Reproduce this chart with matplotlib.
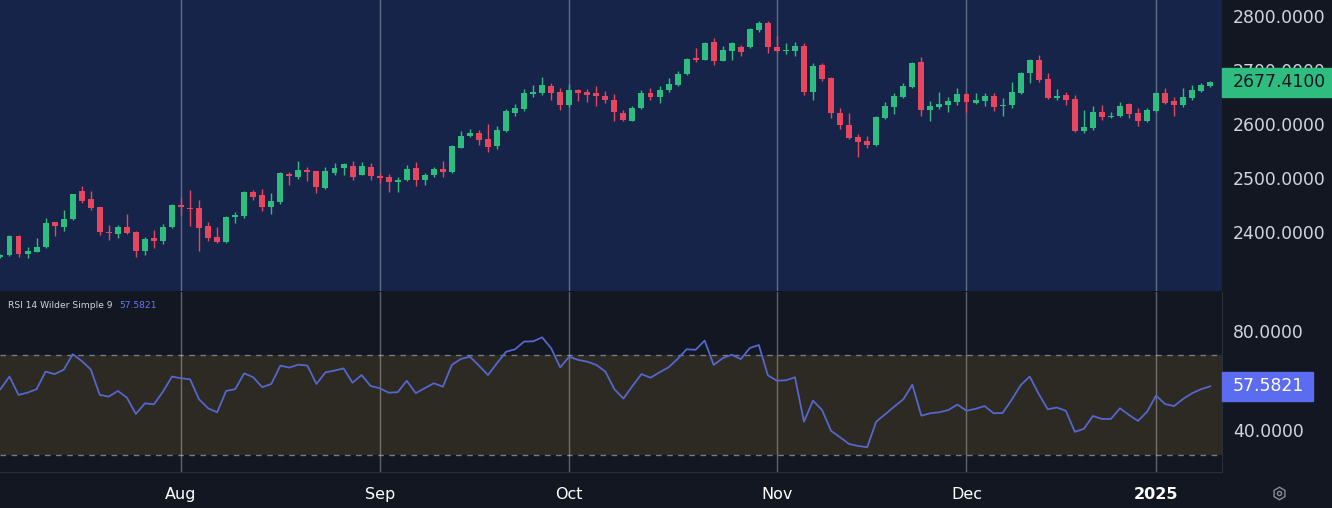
import numpy as np
import matplotlib.pyplot as plt
from matplotlib.patches import Rectangle
from matplotlib.lines import Line2D
from matplotlib.transforms import blended_transform_factory

# daily candles, early Jul 2024 -> early Jan 2025
opens = [2353, 2357, 2393, 2359, 2363, 2372, 2418, 2409, 2424, 2476,
         2461, 2446, 2400, 2396, 2409, 2400, 2365, 2389, 2383, 2409,
         2450, 2444, 2444, 2411, 2391, 2381, 2428, 2430, 2474, 2469,
         2446, 2456, 2507, 2502, 2515, 2513, 2481, 2509, 2519, 2522,
         2506, 2520, 2504, 2502, 2493, 2496, 2519, 2496, 2506, 2517,
         2511, 2556, 2578, 2583, 2572, 2559, 2587, 2620, 2628, 2656,
         2657, 2670, 2659, 2635, 2663, 2659, 2657, 2652, 2644, 2620,
         2606, 2630, 2657, 2650, 2663, 2672, 2693, 2722, 2719, 2752,
         2717, 2735, 2743, 2743, 2774, 2787, 2743, 2735, 2735, 2744,
         2659, 2709, 2685, 2620, 2598, 2576, 2569, 2561, 2611, 2631,
         2650, 2669, 2715, 2626, 2631, 2635, 2641, 2656, 2639, 2643,
         2652, 2633, 2635, 2657, 2694, 2719, 2683, 2648, 2654, 2646,
         2587, 2593, 2622, 2613, 2615, 2637, 2620, 2606, 2624, 2657,
         2643, 2635, 2648, 2661, 2670]
highs = [2359, 2394, 2394, 2372, 2389, 2426, 2419, 2441, 2471, 2485,
         2476, 2447, 2413, 2413, 2433, 2402, 2391, 2404, 2415, 2452,
         2465, 2478, 2459, 2418, 2409, 2429, 2437, 2476, 2478, 2480,
         2472, 2511, 2511, 2531, 2520, 2513, 2520, 2528, 2527, 2531,
         2530, 2528, 2509, 2507, 2502, 2524, 2530, 2509, 2520, 2531,
         2561, 2587, 2591, 2589, 2600, 2596, 2628, 2637, 2665, 2672,
         2687, 2676, 2667, 2674, 2665, 2665, 2670, 2661, 2656, 2626,
         2633, 2663, 2667, 2670, 2685, 2698, 2722, 2741, 2752, 2759,
         2744, 2751, 2746, 2777, 2791, 2791, 2763, 2750, 2752, 2750,
         2713, 2713, 2687, 2630, 2620, 2581, 2578, 2614, 2641, 2657,
         2676, 2715, 2724, 2643, 2659, 2650, 2667, 2657, 2657, 2657,
         2657, 2648, 2678, 2696, 2720, 2728, 2694, 2665, 2659, 2654,
         2626, 2633, 2635, 2622, 2641, 2639, 2630, 2630, 2658, 2667,
         2650, 2667, 2672, 2676, 2680]
lows = [2351, 2355, 2354, 2352, 2362, 2370, 2393, 2402, 2423, 2454,
        2441, 2394, 2385, 2389, 2397, 2354, 2357, 2370, 2378, 2408,
        2432, 2411, 2365, 2383, 2380, 2380, 2417, 2426, 2459, 2439,
        2433, 2452, 2487, 2498, 2494, 2472, 2480, 2505, 2505, 2496,
        2505, 2496, 2491, 2474, 2474, 2495, 2485, 2487, 2502, 2502,
        2510, 2555, 2576, 2561, 2548, 2554, 2586, 2615, 2624, 2650,
        2654, 2644, 2626, 2631, 2643, 2641, 2633, 2639, 2606, 2605,
        2605, 2628, 2644, 2639, 2659, 2670, 2691, 2715, 2718, 2709,
        2716, 2719, 2726, 2741, 2770, 2731, 2733, 2730, 2726, 2654,
        2644, 2680, 2611, 2591, 2572, 2539, 2556, 2560, 2610, 2619,
        2648, 2667, 2615, 2606, 2628, 2622, 2635, 2622, 2637, 2633,
        2624, 2615, 2630, 2655, 2676, 2678, 2646, 2644, 2635, 2585,
        2583, 2589, 2607, 2611, 2613, 2611, 2596, 2604, 2622, 2637,
        2615, 2631, 2644, 2659, 2668]
closes = [2357, 2393, 2359, 2365, 2372, 2417, 2411, 2424, 2470, 2457,
          2444, 2400, 2398, 2409, 2398, 2365, 2387, 2383, 2409, 2450,
          2447, 2442, 2407, 2389, 2381, 2428, 2431, 2474, 2465, 2446,
          2457, 2509, 2504, 2515, 2511, 2483, 2513, 2519, 2526, 2502,
          2522, 2504, 2500, 2493, 2496, 2517, 2496, 2506, 2517, 2511,
          2559, 2578, 2583, 2570, 2557, 2589, 2624, 2630, 2657, 2659,
          2672, 2657, 2635, 2663, 2657, 2654, 2652, 2644, 2622, 2607,
          2630, 2657, 2650, 2663, 2674, 2693, 2720, 2719, 2750, 2717,
          2737, 2750, 2733, 2776, 2787, 2743, 2735, 2737, 2744, 2659,
          2707, 2683, 2620, 2598, 2574, 2567, 2561, 2613, 2633, 2652,
          2670, 2713, 2626, 2633, 2637, 2643, 2656, 2641, 2644, 2652,
          2631, 2635, 2659, 2694, 2719, 2681, 2648, 2652, 2644, 2587,
          2594, 2622, 2613, 2615, 2633, 2619, 2606, 2626, 2657, 2639,
          2635, 2650, 2663, 2672, 2677.41]
rsi = [56.4, 61.5, 54.1, 55.0, 56.4, 63.5, 62.5, 64.2, 70.5, 67.8,
       64.4, 54.1, 53.4, 55.7, 53.0, 46.4, 50.7, 50.3, 55.4, 61.5,
       60.8, 60.4, 52.3, 48.7, 47.1, 55.7, 56.4, 62.8, 61.2, 57.2,
       58.5, 65.9, 65.1, 66.3, 65.9, 58.5, 63.2, 63.9, 64.8, 59.0,
       62.1, 57.7, 56.8, 55.0, 55.2, 59.8, 54.8, 56.8, 58.8, 57.4,
       66.2, 68.6, 69.5, 65.9, 62.1, 66.9, 71.5, 72.5, 75.6, 75.7,
       77.3, 72.9, 65.2, 69.5, 68.2, 67.5, 66.2, 63.5, 56.4, 52.6,
       57.7, 62.5, 61.0, 63.2, 65.2, 68.6, 72.5, 72.3, 76.0, 66.2,
       68.9, 70.3, 68.5, 73.0, 74.2, 62.0, 59.8, 60.0, 61.2, 43.3,
       51.8, 48.0, 39.6, 37.0, 34.3, 33.5, 33.0, 43.3, 46.3, 49.4,
       52.3, 58.2, 45.7, 46.7, 47.1, 48.0, 50.2, 47.7, 48.5, 49.6,
       46.7, 46.8, 52.1, 58.0, 61.5, 54.5, 48.3, 49.0, 47.7, 39.2,
       40.4, 45.6, 44.4, 44.4, 48.7, 46.0, 43.6, 47.3, 53.8, 50.4,
       49.6, 52.5, 54.8, 56.4, 57.5821]

month_idx = [20, 42, 63, 86, 107, 128]
month_labels = ['Aug', 'Sep', 'Oct', 'Nov', 'Dec', '2025']
price_ticks = [2400, 2500, 2600, 2700, 2800]
rsi_ticks = [40, 80]
rsi_band = [30, 70]

up_col = '#2ebd7f'
down_col = '#e8465f'
txt_col = '#d1d4dc'

W, H = 1332, 508
fig = plt.figure(figsize=(W / 100, H / 100), dpi=100, facecolor='#131722')
ax = fig.add_axes([0, (H - 291) / H, 1222 / W, 291 / H])
ax2 = fig.add_axes([0, (H - 472) / H, 1222 / W, 180 / H])

o = np.array(opens, float)
c = np.array(closes, float)
x = np.arange(len(o))
cols = np.where(c >= o, up_col, down_col)

# candles
ax.set_facecolor('#17244a')
ax.vlines(x, lows, highs, colors=cols, lw=1, zorder=2)
body = np.maximum(np.abs(c - o), 1.6)
ax.bar(x, body, bottom=np.minimum(o, c), width=0.66, color=cols, lw=0, zorder=3)
ax.set_xlim(-0.05, 135.3)
ax.set_ylim(2290.7, 2829.6)

# rsi pane
ax2.set_facecolor('#131722')
ax2.axhspan(rsi_band[0], rsi_band[1], color='#2c2a23', lw=0, zorder=0)
for v in rsi_band:
    ax2.axhline(v, color='#787b86', lw=1, ls=(0, (4, 4)), zorder=1)
ax2.plot(x, rsi, color='#5566cc', lw=1.3, zorder=3)
ax2.set_xlim(-0.05, 135.3)
ax2.set_ylim(23.0, 95.6)

for a in (ax, ax2):
    for m in month_idx:
        a.axvline(m, color='white', alpha=0.33, lw=1, zorder=1)
    for s in a.spines.values():
        s.set_visible(False)
    a.yaxis.tick_right()
    a.tick_params(axis='y', length=0, pad=8, labelsize=12.4, labelcolor=txt_col)

ax.set_xticks([])
ax.set_yticks(price_ticks)
ax.set_yticklabels(['%.4f' % t for t in price_ticks])
ax2.set_yticks(rsi_ticks)
ax2.set_yticklabels(['%.4f' % t for t in rsi_ticks])

ax2.set_xticks(month_idx)
ax2.set_xticklabels(month_labels)
ax2.tick_params(axis='x', length=0, pad=11, labelsize=11.5, labelcolor='white')
ax2.get_xticklabels()[-1].set_fontweight('bold')
ax2.spines['bottom'].set_visible(True)
ax2.spines['bottom'].set_color('#2a2e39')
ax2.spines['right'].set_visible(True)
ax2.spines['right'].set_color('#2a2e39')

# last value tags on the price scales
tr = blended_transform_factory(ax.transAxes, ax.transData)
ax.add_patch(Rectangle((1.0, c[-1] - 27), 110 / 1222, 54, transform=tr,
                       color=up_col, clip_on=False, zorder=10))
ax.text(1 + 11 / 1222, c[-1], '%.4f' % c[-1], transform=tr, va='center',
        ha='left', fontsize=12.4, color='#131722', zorder=11, clip_on=False)

tr2 = blended_transform_factory(ax2.transAxes, ax2.transData)
ax2.add_patch(Rectangle((1.0, rsi[-1] - 5.85), 91 / 1222, 11.7, transform=tr2,
                        color='#5c6cf0', clip_on=False, zorder=10))
ax2.text(1 + 11 / 1222, rsi[-1], '%.4f' % rsi[-1], transform=tr2, va='center',
         ha='left', fontsize=12.4, color='white', zorder=11, clip_on=False)

# indicator legend
ax2.text(8 / 1222, 1 - 13 / 180, 'RSI 14 Wilder Simple 9', transform=ax2.transAxes,
         va='center', ha='left', fontsize=6.6, color=txt_col)
ax2.text(119 / 1222, 1 - 13 / 180, '%.4f' % rsi[-1], transform=ax2.transAxes,
         va='center', ha='left', fontsize=6.6, color='#6677ee')

# settings icon in the corner
fig.add_artist(Line2D([1279 / W], [1 - 493 / H], marker='h', ms=9, mfc='none',
                      mec='#8a8d96', mew=1, transform=fig.transFigure))
fig.add_artist(Line2D([1279 / W], [1 - 493 / H], marker='o', ms=3, mfc='none',
                      mec='#8a8d96', mew=1, transform=fig.transFigure))

fig.savefig('out.png', dpi=100, facecolor=fig.get_facecolor())
